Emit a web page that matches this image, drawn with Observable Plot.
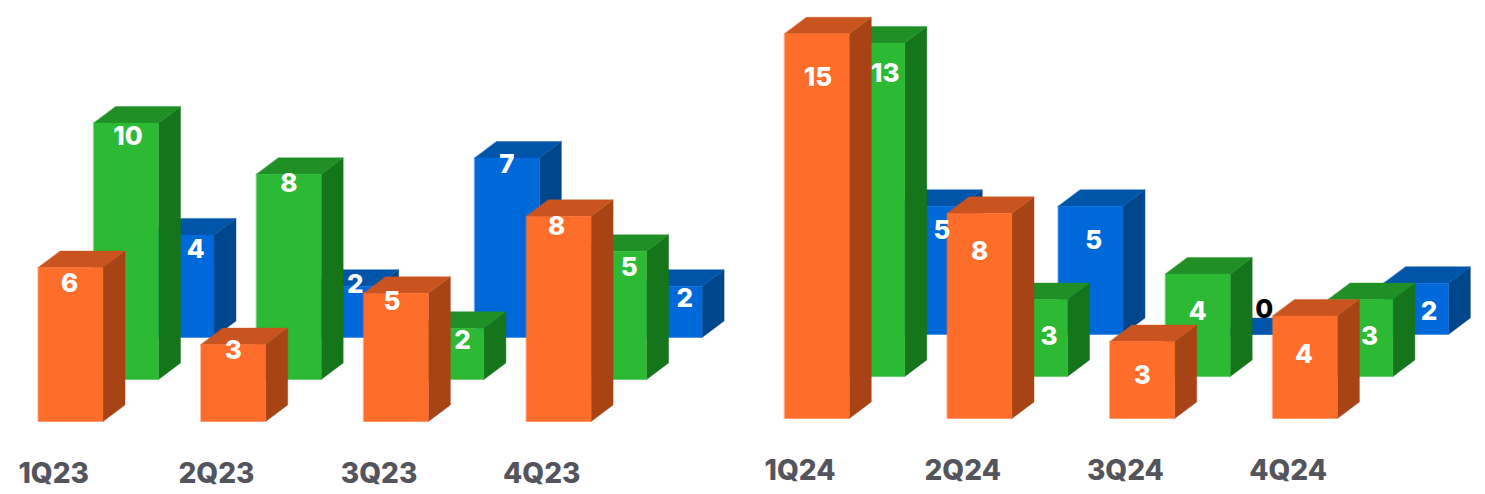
<!DOCTYPE html>
<html>
<head>
<meta charset="utf-8">
<script src="https://cdn.jsdelivr.net/npm/d3@7"></script>
<script src="https://cdn.jsdelivr.net/npm/@observablehq/plot@0.6"></script>
<style>
  html, body { margin: 0; padding: 0; background: #fff; }
  svg { display: block; }
</style>
</head>
<body>
<div id="chart"></div>
<script>
// ---- values ----
const quarters = ["1Q23", "2Q23", "3Q23", "4Q23", "1Q24", "2Q24", "3Q24", "4Q24"];
const orangeValues = [6, 3, 5, 8, 15, 8, 3, 4];
const greenValues = [10, 8, 2, 5, 13, 3, 4, 3];
const blueValues = [4, 2, 7, 2, 5, 5, 0, 2];

// ---- label placement relative to each bar's front face, in px ----
const orangeShift = [-1, 0, -4, -2, 1, 0, 0, -1];
const greenShift = [2, 0, 11, 15, 13, 14, 0, 9];
const blueShift = [14, 11, 0, 15, 14, 3, 11, 13];
const orangeDrop = [16, 6, 8, 10, 44, 38, 34, 39];
const greenDrop = [14, 9, 12, 16, 31, 37, 38, 37];
const blueDrop = [15, -2, 7, 12, 24, 34, -25, 28];

// ---- the oblique projection, in scale units ----
const pxPerQuarter = 162.7;
const pxPerValue = 25.65;
const originX = 37.7;
const originY = 421;
const toQ = (px) => px / pxPerQuarter;
const toV = (px) => px / pxPerValue;
const barWidth = toQ(64.8);
const depthX = toQ(22);
const depthY = toV(16.5);
const seriesStepX = toQ(55.5);
const seriesStepY = toV(42);
const yearGapX = toQ(95.5);
const yearGapY = toV(3);

const series = [
  {name: "blue", values: blueValues, level: 2, shift: blueShift, drop: blueDrop,
   front: "#0069D9", top: "#0055A8", side: "#00468C"},
  {name: "green", values: greenValues, level: 1, shift: greenShift, drop: greenDrop,
   front: "#2CB934", top: "#1F8F26", side: "#15751A"},
  {name: "orange", values: orangeValues, level: 0, shift: orangeShift, drop: orangeDrop,
   front: "#FF6D2A", top: "#CA541F", side: "#A84315"}
];

const left = (i, level) => i + (i >= 4 ? yearGapX : 0) + level * seriesStepX;
const base = (i, level) => (i >= 4 ? yearGapY : 0) + level * seriesStepY;

function faces(s) {
  const front = [], top = [], side = [];
  s.values.forEach((v, i) => {
    const x0 = left(i, s.level), x1 = x0 + barWidth;
    const y0 = base(i, s.level), y1 = y0 + v;
    const add = (list, pts) => pts.forEach(([x, y]) => list.push({id: i, x, y}));
    add(front, [[x0, y0], [x1, y0], [x1, y1], [x0, y1]]);
    add(top, [[x0, y1], [x1, y1], [x1 + depthX, y1 + depthY], [x0 + depthX, y1 + depthY]]);
    add(side, [[x1, y0], [x1 + depthX, y0 + depthY], [x1 + depthX, y1 + depthY], [x1, y1]]);
  });
  return {front, top, side};
}

const faceMarks = series.flatMap((s) => {
  const f = faces(s);
  const opts = (fill) => ({x: "x", y: "y", z: "id", fill, stroke: fill, strokeWidth: 0.4, curve: "linear-closed"});
  return [
    Plot.line(f.side, opts(s.side)),
    Plot.line(f.top, opts(s.top)),
    Plot.line(f.front, opts(s.front))
  ];
});

const labels = series.flatMap((s) =>
  s.values.map((v, i) => ({
    text: String(v),
    x: left(i, s.level) + barWidth / 2 + toQ(s.shift[i]),
    y: base(i, s.level) + v - toV(s.drop[i]),
    color: v === 0 ? "#000000" : "#ffffff"
  }))
);

const axisLabels = quarters.map((q, i) => ({
  text: q,
  x: left(i, 0) + toQ(15.5),
  y: base(i, 0) - toV(52.5)
}));

const chart = Plot.plot({
  width: 1485,
  height: 494,
  margin: 0,
  style: {background: "#fff"},
  x: {axis: null, domain: [toQ(-originX), toQ(1485 - originX)], range: [0, 1485]},
  y: {axis: null, domain: [toV(originY - 494), toV(originY)], range: [494, 0]},
  color: {type: "identity"},
  marks: [
    ...faceMarks,
    Plot.text(labels, {
      x: "x", y: "y", text: "text", fill: "color",
      fontFamily: "Inter", fontWeight: 800, fontSize: 26, textAnchor: "middle", lineAnchor: "middle"
    }),
    Plot.text(axisLabels, {
      x: "x", y: "y", text: "text", fill: "#54545C",
      fontFamily: "Inter", fontWeight: 800, fontSize: 28, textAnchor: "middle", lineAnchor: "middle"
    })
  ]
});
document.getElementById("chart").append(chart);
</script>
</body>
</html>
